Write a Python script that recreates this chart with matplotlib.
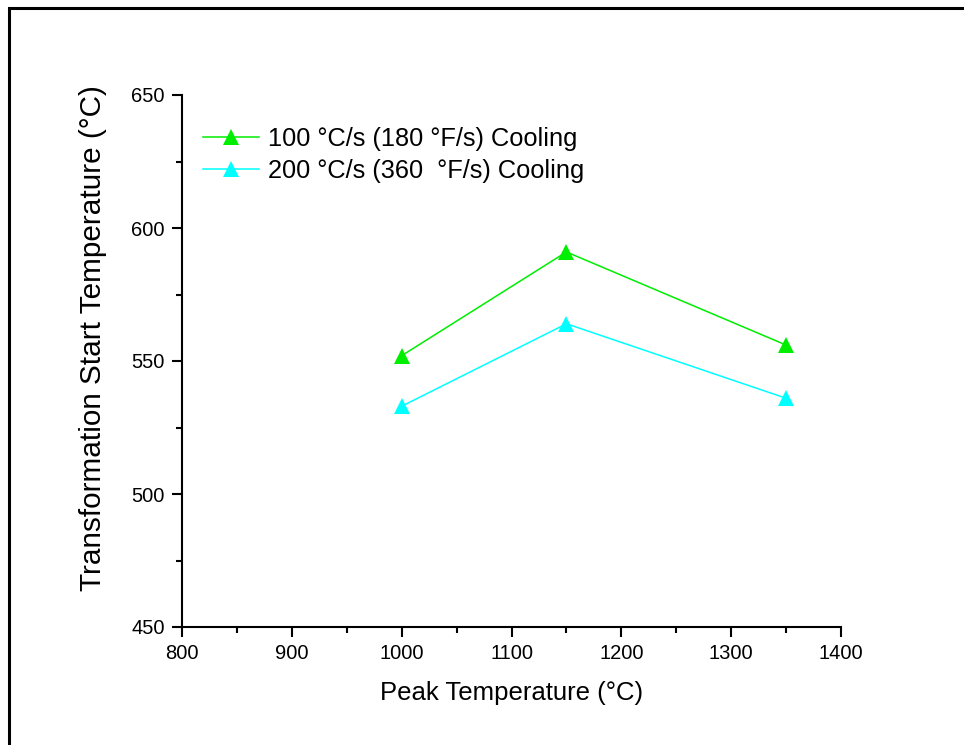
import matplotlib.pyplot as plt
import matplotlib.patches as mpatches
from matplotlib.ticker import MultipleLocator

plt.rcParams["font.family"] = ["Liberation Sans", "DejaVu Sans"]

peak_temp = [1000, 1150, 1350]
start_100 = [552, 591, 556]
start_200 = [533, 564, 536]

labels = ["100 °C/s (180 °F/s) Cooling", "200 °C/s (360  °F/s) Cooling"]
colors = ["#00ee00", "#00ffff"]

W, H = 964, 745
fig = plt.figure(figsize=(W / 100, H / 100), dpi=100)
ax = fig.add_axes([182 / W, 1 - 627 / H, (841 - 182) / W, (627 - 95) / H])

for ys, color, label in zip([start_100, start_200], colors, labels):
    ax.plot(peak_temp, ys, color=color, lw=1.1, marker="^", ms=11,
            markeredgewidth=0, label=label)

ax.set_xlim(800, 1400)
ax.set_ylim(450, 650)
ax.xaxis.set_major_locator(MultipleLocator(100))
ax.xaxis.set_minor_locator(MultipleLocator(50))
ax.yaxis.set_major_locator(MultipleLocator(50))
ax.yaxis.set_minor_locator(MultipleLocator(25))

for side in ("top", "right"):
    ax.spines[side].set_visible(False)
for side in ("left", "bottom"):
    ax.spines[side].set_linewidth(1.5)

ax.tick_params(which="major", direction="out", length=7.5, width=1.5,
               labelsize=14.5, pad=5)
ax.tick_params(which="minor", direction="out", length=4, width=1.5)

ax.set_xlabel("Peak Temperature (°C)", fontsize=18.5, labelpad=13)
ax.set_ylabel("Transformation Start Temperature (°C)", fontsize=21.4)
ax.yaxis.set_label_coords(-0.114, 0.543)

ax.legend(loc="upper left", bbox_to_anchor=(0.032, 0.94), frameon=False,
          fontsize=18.3, handlelength=2.2, handletextpad=0.35, labelspacing=0.3,
          borderaxespad=0, borderpad=0)

# outer frame around the figure
fig.patches.append(mpatches.Rectangle((9 / W, -0.05), 1.2, 1 - 8 / H + 0.05,
                                      transform=fig.transFigure, fill=False,
                                      edgecolor="black", linewidth=2.2))

fig.savefig("out.png", dpi=100)
